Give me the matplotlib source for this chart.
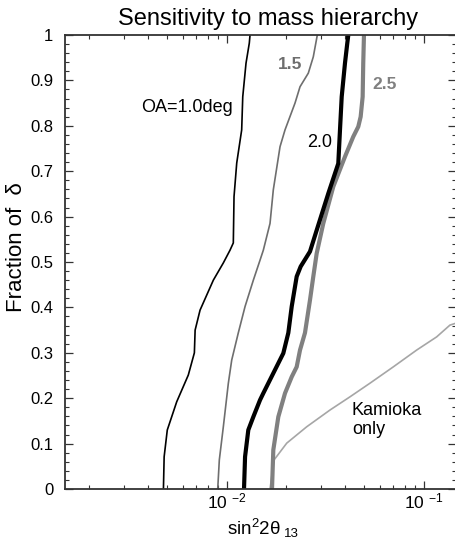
import numpy as np
import matplotlib
matplotlib.use("Agg")
import matplotlib.pyplot as plt
from matplotlib.ticker import FixedLocator, NullFormatter, FixedFormatter

plt.rcParams['font.family'] = ['Liberation Sans', 'DejaVu Sans']
plt.rcParams['mathtext.fontset'] = 'custom'
plt.rcParams['mathtext.rm'] = 'Liberation Sans'
plt.rcParams['mathtext.it'] = 'Liberation Sans:italic'
plt.rcParams['mathtext.bf'] = 'Liberation Sans:bold'

# Sensitivity curves: sin^2(2 theta_13) reach vs fraction of delta
oa10_x = [0.00477, 0.00481, 0.00499, 0.00557, 0.00638, 0.00685, 0.00691, 0.00732,
          0.00855, 0.00961, 0.01039, 0.01080, 0.01089, 0.01124, 0.01191, 0.01206,
          0.01253, 0.01302, 0.01313]
oa10_y = [0.0, 0.071, 0.130, 0.192, 0.251, 0.300, 0.350, 0.394, 0.460, 0.498, 0.526,
          0.542, 0.644, 0.718, 0.791, 0.864, 0.938, 0.982, 1.0]

oa15_x = [0.00900, 0.00917, 0.00961, 0.01019, 0.01060, 0.01145, 0.01239, 0.01365,
          0.01476, 0.01534, 0.01659, 0.01724, 0.01865, 0.01977, 0.02222, 0.02356,
          0.02596, 0.02752, 0.02884]
oa15_y = [0.0, 0.064, 0.137, 0.233, 0.284, 0.344, 0.402, 0.460, 0.504, 0.526, 0.585,
          0.659, 0.754, 0.791, 0.850, 0.886, 0.916, 0.952, 1.0]

oa20_x = [0.01224, 0.01239, 0.01287, 0.01365, 0.01476, 0.01534, 0.01724, 0.01938,
          0.02055, 0.02138, 0.02266, 0.02374, 0.02647, 0.02863, 0.03280, 0.03686,
          0.03760, 0.03836, 0.03986, 0.04095, 0.04144]
oa20_y = [0.0, 0.071, 0.130, 0.159, 0.196, 0.211, 0.255, 0.299, 0.344, 0.402, 0.468,
          0.490, 0.523, 0.570, 0.651, 0.717, 0.791, 0.864, 0.938, 0.982, 1.0]

oa25_x = [0.01698, 0.01724, 0.01828, 0.01977, 0.02138, 0.02266, 0.02356, 0.02497,
          0.02647, 0.02752, 0.02863, 0.03093, 0.03477, 0.03986, 0.04391, 0.04656,
          0.04788, 0.04901, 0.04935, 0.04977]
oa25_y = [0.0, 0.086, 0.159, 0.211, 0.247, 0.269, 0.306, 0.344, 0.416, 0.468, 0.519,
          0.585, 0.666, 0.732, 0.776, 0.798, 0.820, 0.864, 0.938, 1.0]

kam_x = [0.01659, 0.01739, 0.02017, 0.02547, 0.03346, 0.04225, 0.05337, 0.07012,
         0.09216, 0.1164, 0.1360, 0.1528]
kam_y = [0.0, 0.064, 0.101, 0.137, 0.174, 0.203, 0.233, 0.269, 0.306, 0.335, 0.361,
         0.368]

x_major = [0.01, 0.1]
x_major_labels = ['10 $^{-2}$', '10 $^{-1}$']
x_minor = [m * 10.0 ** e for e in (-3, -2) for m in range(2, 10)]
y_major = np.round(np.arange(0, 1.01, 0.1), 2)
y_major_labels = ['0', '0.1', '0.2', '0.3', '0.4', '0.5', '0.6', '0.7', '0.8', '0.9', '1']
y_minor = np.round(np.arange(0, 1.001, 0.02), 2)

W, H = 455, 539
fig = plt.figure(figsize=(W / 100, H / 100), dpi=100)
ax = fig.add_axes([64.5 / W, 50 / H, 391.5 / W, 454 / H])

ax.plot(oa10_x, oa10_y, color='black', lw=1.2, solid_joinstyle='round')
ax.plot(oa15_x, oa15_y, color='#6e6e6e', lw=1.2, solid_joinstyle='round')
ax.plot(kam_x, kam_y, color='#a6a6a6', lw=1.2, solid_joinstyle='round')
ax.plot(oa25_x, oa25_y, color='#808080', lw=3.0, solid_joinstyle='round')
ax.plot(oa20_x, oa20_y, color='black', lw=3.0, solid_joinstyle='round')

ax.set_xscale('log')
ax.set_xlim(0.0015, 0.146)
ax.set_ylim(0, 1)

ax.xaxis.set_major_locator(FixedLocator(x_major))
ax.xaxis.set_major_formatter(FixedFormatter(x_major_labels))
ax.xaxis.set_minor_locator(FixedLocator(x_minor))
ax.xaxis.set_minor_formatter(NullFormatter())
ax.yaxis.set_major_locator(FixedLocator(y_major))
ax.yaxis.set_major_formatter(FixedFormatter(y_major_labels))
ax.yaxis.set_minor_locator(FixedLocator(y_minor))

ax.tick_params(which='both', direction='in', top=True, right=True, color='#333333')
ax.tick_params(which='major', length=5.5, width=0.9)
ax.tick_params(which='minor', length=3, width=0.8)
ax.tick_params(axis='y', which='major', labelsize=12, pad=8)
ax.tick_params(axis='x', which='major', labelsize=12.5, pad=2)
for sp in ax.spines.values():
    sp.set_linewidth(1.3)
    sp.set_color('#333333')

ax.set_title('Sensitivity to mass hierarchy', fontsize=17, pad=7, x=0.521)
# x-axis label with the subscript set as a separate, smaller text
fig.text(227 / W, 1 - 535 / H, 'sin$^{2}$2θ', fontsize=13.5, ha='left', va='baseline')
fig.text(284 / W, 1 - 537 / H, '13', fontsize=9.5, ha='left', va='baseline')
fig.text(17 / W, 1 - 247 / H, 'Fraction of  δ', fontsize=16, rotation=90,
         ha='center', va='center')

ax.text(0.00629, 0.841, 'OA=1.0deg', fontsize=13, ha='center', va='center')
ax.text(0.0210, 0.936, '1.5', fontsize=12.5, fontweight='bold', color='#6e6e6e',
        ha='center', va='center')
ax.text(0.0298, 0.764, '2.0', fontsize=13, ha='center', va='center')
ax.text(0.0636, 0.890, '2.5', fontsize=12.5, fontweight='bold', color='#808080',
        ha='center', va='center')
ax.text(0.0432, 0.153, 'Kamioka\nonly', fontsize=13, ha='left', va='center',
        linespacing=1.15)

fig.savefig('out.png', dpi=100)
